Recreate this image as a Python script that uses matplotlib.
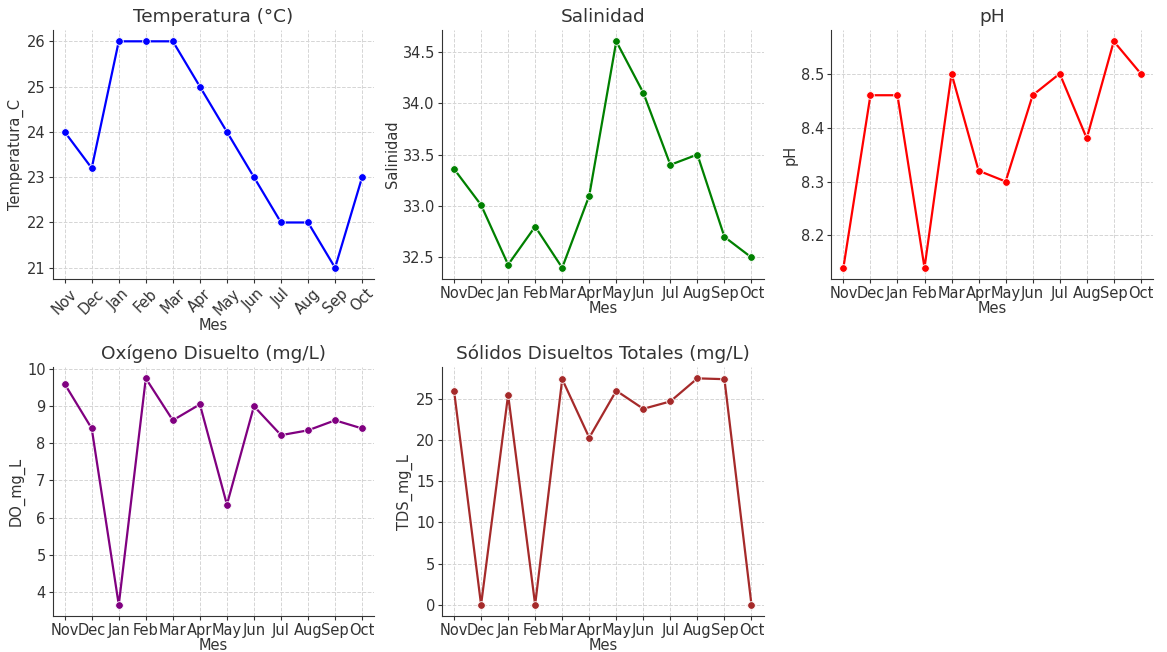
import numpy as np
import matplotlib
matplotlib.use("Agg")
import matplotlib.pyplot as plt

# datos mensuales
meses = ["Nov", "Dec", "Jan", "Feb", "Mar", "Apr", "May", "Jun", "Jul", "Aug", "Sep", "Oct"]
temperatura = [24, 23.2, 26, 26, 26, 25, 24, 23, 22, 22, 21, 23]
salinidad = [33.36, 33.01, 32.43, 32.8, 32.4, 33.1, 34.6, 34.1, 33.4, 33.5, 32.7, 32.5]
ph = [8.14, 8.46, 8.46, 8.14, 8.5, 8.32, 8.30, 8.46, 8.5, 8.38, 8.56, 8.5]
do_mg_l = [9.6, 8.4, 3.65, 9.75, 8.62, 9.05, 6.35, 9.0, 8.22, 8.35, 8.62, 8.4]
tds_mg_l = [26.0, 0, 25.5, 0, 27.4, 20.3, 26.0, 23.8, 24.7, 27.5, 27.4, 0]

paneles = [
    (temperatura, "Temperatura (°C)", "Temperatura_C", "blue", 45),
    (salinidad, "Salinidad", "Salinidad", "green", 0),
    (ph, "pH", "pH", "red", 0),
    (do_mg_l, "Oxígeno Disuelto (mg/L)", "DO_mg_L", "purple", 0),
    (tds_mg_l, "Sólidos Disueltos Totales (mg/L)", "TDS_mg_L", "brown", 0),
]

txt = "#333333"
plt.rcParams["font.family"] = "DejaVu Sans"

fig, axes = plt.subplots(2, 3, figsize=(11.67, 6.52), dpi=100)
fig.subplots_adjust(left=0.045, right=0.988, top=0.954, bottom=0.055, wspace=0.21, hspace=0.353)

x = np.arange(len(meses))
for ax, (vals, titulo, ylab, color, rot) in zip(axes.flat, paneles):
    ax.plot(x, vals, color=color, lw=1.6, marker="o", ms=5.5,
            markeredgecolor="white", markeredgewidth=0.6)
    ax.set_title(titulo, fontsize=13.3, color=txt)
    ax.set_ylabel(ylab, fontsize=10.5, color=txt, labelpad=2)
    ax.set_xlabel("Mes", fontsize=10.5, color=txt, labelpad=0)
    ax.set_xticks(x)
    ax.set_xticklabels(meses, rotation=rot)
    ax.tick_params(colors=txt, labelsize=10.5, length=3, pad=2)
    ax.grid(True, linestyle="--", color="#d5d5d5", lw=0.7)
    ax.set_axisbelow(True)
    ax.set_xlim(-0.45, 11.45)
    for s in ["top", "right"]:
        ax.spines[s].set_visible(False)
    for s in ["left", "bottom"]:
        ax.spines[s].set_color(txt)

axes[0, 0].set_yticks([21, 22, 23, 24, 25, 26])
axes[0, 1].set_yticks([32.5, 33.0, 33.5, 34.0, 34.5])
axes[0, 2].set_yticks([8.2, 8.3, 8.4, 8.5])
axes[1, 1].set_yticks([0, 5, 10, 15, 20, 25])
axes[1, 2].remove()

fig.savefig("out.png", dpi=100)
